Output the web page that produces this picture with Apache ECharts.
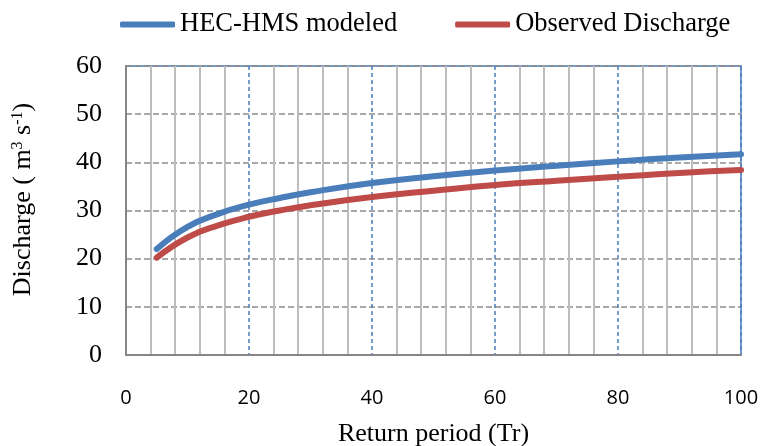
<!DOCTYPE html>
<html>
<head>
<meta charset="utf-8">
<script src="https://cdn.jsdelivr.net/npm/echarts@6/dist/echarts.min.js"></script>
<style>
  html, body { margin: 0; padding: 0; background: #fff; }
  #main { width: 764px; height: 446px; }
</style>
</head>
<body>
<div id="main"></div>
<script>
// return period (years) and discharge
const returnPeriod = [5, 10, 15, 20, 25, 30, 40, 50, 60, 70, 80, 90, 100];
const hecHms   = [22.0, 26.6, 29.3, 31.2, 32.6, 33.8, 35.7, 37.1, 38.3, 39.3, 40.2, 41.0, 41.7];
const observed = [20.2, 24.4, 26.9, 28.7, 30.0, 31.1, 32.8, 34.1, 35.3, 36.2, 37.0, 37.8, 38.4];
const seriesNames = ['HEC-HMS modeled', 'Observed Discharge'];

const BLUE = '#4a7ebb';
const RED = '#be4b48';
const serif = '"Liberation Serif", "Times New Roman", serif';

function pairs(xs, ys) {
  let out = [];
  for (let i = 0; i < xs.length; i++) {
    out.push([xs[i], ys[i]]);
  }
  return out;
}

let chart = echarts.init(document.getElementById('main'), null, { renderer: 'canvas' });

let options = {
  animation: false,
  legend: {
    data: seriesNames,
    top: 6,
    left: 115,
    icon: 'roundRect',
    itemWidth: 55,
    itemHeight: 6,
    itemGap: 58,
    textStyle: { fontFamily: serif, fontSize: 26.5, color: '#000', padding: [0, 0, 0, 0] }
  },
  grid: {
    left: 126,
    right: 23,
    top: 66,
    bottom: 91,
    containLabel: false,
    outerBoundsMode: 'none',
    show: true,
    borderColor: BLUE,
    borderWidth: 1.5
  },
  xAxis: {
    type: 'value',
    min: 0,
    max: 100,
    interval: 20,
    name: 'Return period (Tr)',
    nameLocation: 'middle',
    nameGap: 66,
    nameTextStyle: { fontFamily: serif, fontSize: 26, color: '#000' },
    axisLine: { lineStyle: { color: '#868686', width: 2 } },
    axisTick: { show: false },
    minorTick: { show: false, splitNumber: 5 },
    axisLabel: {
      margin: 33,
      fontFamily: '"Open Sans", "Liberation Sans", sans-serif',
      fontSize: 20,
      color: '#000'
    },
    splitLine: { show: true, lineStyle: { color: BLUE, type: [4, 3], width: 1.5 } },
    minorSplitLine: { show: true, lineStyle: { color: '#bdbdbd', width: 2 } }
  },
  yAxis: {
    type: 'value',
    min: 0,
    max: 60,
    interval: 10,
    name: 'Discharge ( m{sup|3} s{sup|-1})',
    nameLocation: 'middle',
    nameGap: 90,
    nameTextStyle: {
      fontFamily: serif,
      fontSize: 26,
      color: '#000',
      padding: [0, 0, 0, 22],
      rich: {
        sup: { fontFamily: serif, fontSize: 16, color: '#000', verticalAlign: 'top' }
      }
    },
    axisLine: { show: true, lineStyle: { color: '#868686', width: 2 } },
    axisTick: { show: false },
    axisLabel: { margin: 24, fontFamily: serif, fontSize: 26, color: '#000' },
    splitLine: { show: true, lineStyle: { color: '#8c8c8c', type: [6, 3], width: 1.5 } }
  },
  series: [
    {
      name: seriesNames[0],
      type: 'line',
      data: pairs(returnPeriod, hecHms),
      smooth: true,
      showSymbol: false,
      lineStyle: { color: BLUE, width: 6, cap: 'round' },
      itemStyle: { color: BLUE },
      z: 3
    },
    {
      name: seriesNames[1],
      type: 'line',
      data: pairs(returnPeriod, observed),
      smooth: true,
      showSymbol: false,
      lineStyle: { color: RED, width: 6, cap: 'round' },
      itemStyle: { color: RED },
      z: 2
    }
  ]
};

chart.setOption(options);
</script>
</body>
</html>
